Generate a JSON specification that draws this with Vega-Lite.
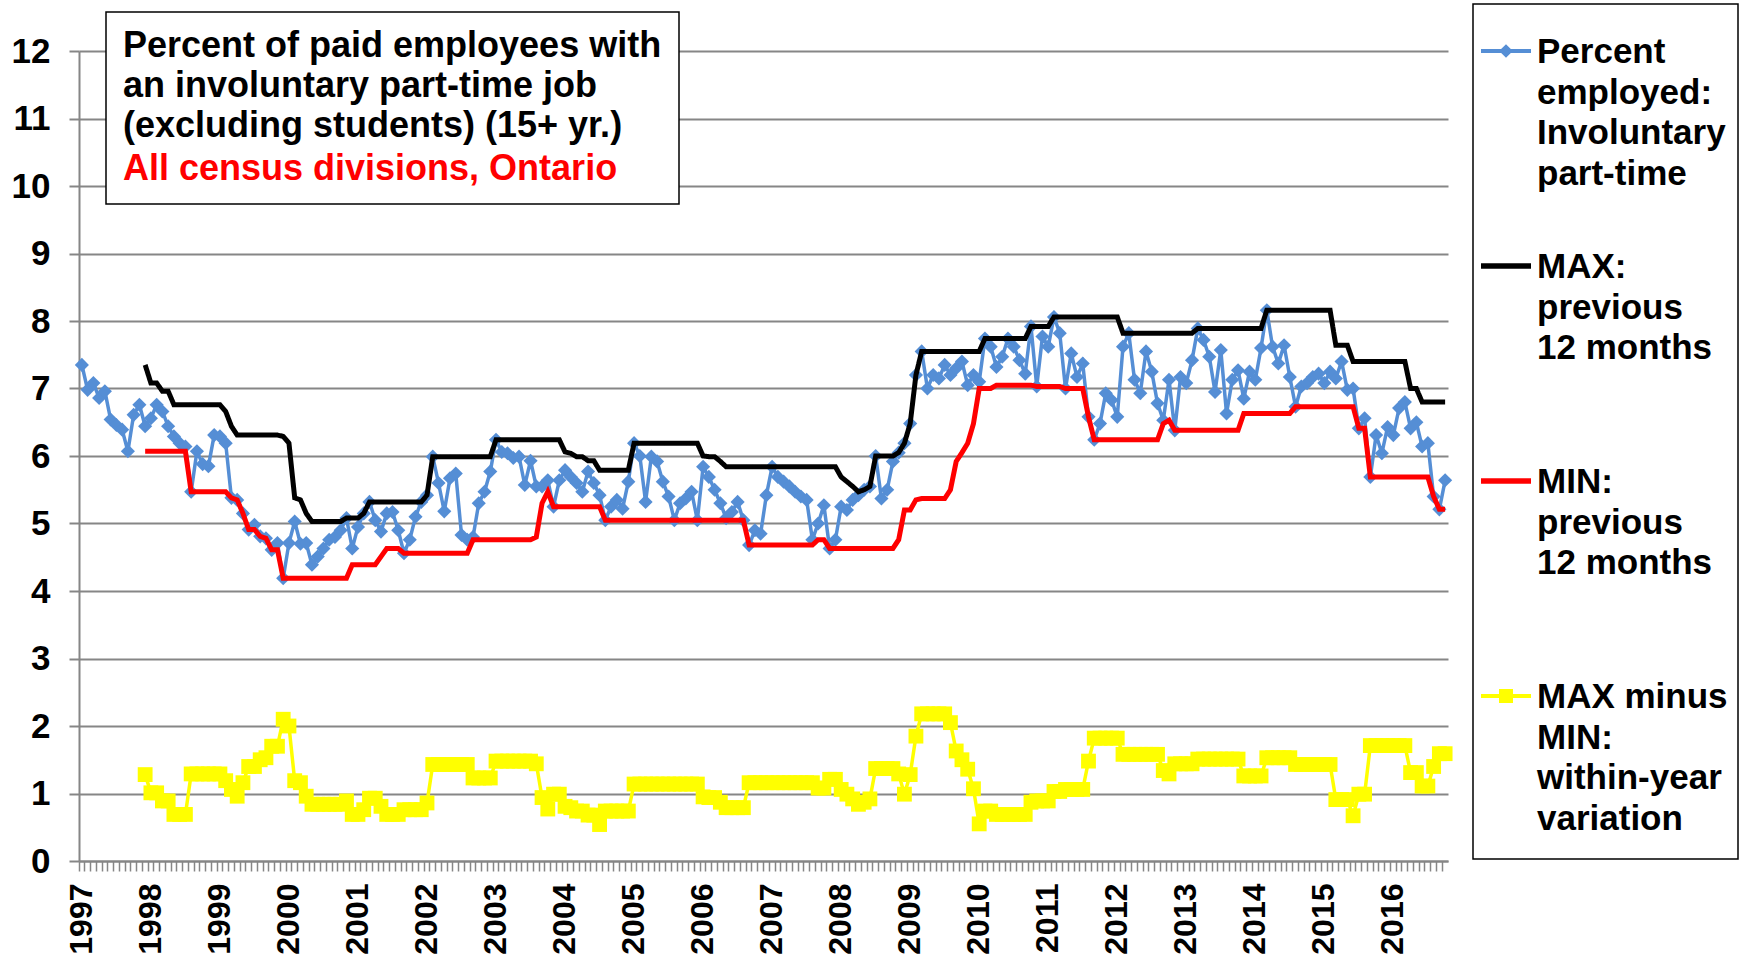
{
  "$schema": "https://vega.github.io/schema/vega-lite/v6.json",
  "width": 1369,
  "height": 810,
  "autosize": {"type": "none"},
  "padding": {"left": 79, "top": 51, "right": 298, "bottom": 102},
  "background": "white",
  "config": {
    "font": "Liberation Sans",
    "view": {"stroke": null},
    "legend": {"strokeWidth": 1.5}
  },
  "data": {"values": [
    {"d":"1997-01","pct":7.35},{"d":"1997-02","pct":6.98},{"d":"1997-03","pct":7.08},{"d":"1997-04","pct":6.86},
    {"d":"1997-05","pct":6.96},{"d":"1997-06","pct":6.54},{"d":"1997-07","pct":6.46},{"d":"1997-08","pct":6.39},
    {"d":"1997-09","pct":6.07},{"d":"1997-10","pct":6.61},{"d":"1997-11","pct":6.76},
    {"d":"1997-12","pct":6.44,"mx":7.35,"mn":6.07,"df":1.28},
    {"d":"1998-01","pct":6.56,"mx":7.08,"mn":6.07,"df":1.01},
    {"d":"1998-02","pct":6.76,"mx":7.08,"mn":6.07,"df":1.01},
    {"d":"1998-03","pct":6.66,"mx":6.96,"mn":6.07,"df":0.89},
    {"d":"1998-04","pct":6.44,"mx":6.96,"mn":6.07,"df":0.89},
    {"d":"1998-05","pct":6.29,"mx":6.76,"mn":6.07,"df":0.69},
    {"d":"1998-06","pct":6.19,"mx":6.76,"mn":6.07,"df":0.69},
    {"d":"1998-07","pct":6.14,"mx":6.76,"mn":6.07,"df":0.69},
    {"d":"1998-08","pct":5.47,"mx":6.76,"mn":5.47,"df":1.29},
    {"d":"1998-09","pct":6.07,"mx":6.76,"mn":5.47,"df":1.29},
    {"d":"1998-10","pct":5.88,"mx":6.76,"mn":5.47,"df":1.29},
    {"d":"1998-11","pct":5.85,"mx":6.76,"mn":5.47,"df":1.29},
    {"d":"1998-12","pct":6.31,"mx":6.76,"mn":5.47,"df":1.29},
    {"d":"1999-01","pct":6.29,"mx":6.76,"mn":5.47,"df":1.29},
    {"d":"1999-02","pct":6.19,"mx":6.66,"mn":5.47,"df":1.19},
    {"d":"1999-03","pct":5.38,"mx":6.44,"mn":5.38,"df":1.06},
    {"d":"1999-04","pct":5.35,"mx":6.31,"mn":5.35,"df":0.96},
    {"d":"1999-05","pct":5.15,"mx":6.31,"mn":5.15,"df":1.16},
    {"d":"1999-06","pct":4.91,"mx":6.31,"mn":4.91,"df":1.40},
    {"d":"1999-07","pct":4.98,"mx":6.31,"mn":4.91,"df":1.40},
    {"d":"1999-08","pct":4.81,"mx":6.31,"mn":4.81,"df":1.50},
    {"d":"1999-09","pct":4.78,"mx":6.31,"mn":4.78,"df":1.53},
    {"d":"1999-10","pct":4.61,"mx":6.31,"mn":4.61,"df":1.70},
    {"d":"1999-11","pct":4.71,"mx":6.31,"mn":4.61,"df":1.70},
    {"d":"1999-12","pct":4.19,"mx":6.29,"mn":4.19,"df":2.10},
    {"d":"2000-01","pct":4.71,"mx":6.19,"mn":4.19,"df":2.00},
    {"d":"2000-02","pct":5.03,"mx":5.38,"mn":4.19,"df":1.19},
    {"d":"2000-03","pct":4.70,"mx":5.35,"mn":4.19,"df":1.16},
    {"d":"2000-04","pct":4.71,"mx":5.15,"mn":4.19,"df":0.96},
    {"d":"2000-05","pct":4.39,"mx":5.03,"mn":4.19,"df":0.84},
    {"d":"2000-06","pct":4.51,"mx":5.03,"mn":4.19,"df":0.84},
    {"d":"2000-07","pct":4.63,"mx":5.03,"mn":4.19,"df":0.84},
    {"d":"2000-08","pct":4.76,"mx":5.03,"mn":4.19,"df":0.84},
    {"d":"2000-09","pct":4.80,"mx":5.03,"mn":4.19,"df":0.84},
    {"d":"2000-10","pct":4.90,"mx":5.03,"mn":4.19,"df":0.84},
    {"d":"2000-11","pct":5.08,"mx":5.08,"mn":4.19,"df":0.89},
    {"d":"2000-12","pct":4.63,"mx":5.08,"mn":4.39,"df":0.69},
    {"d":"2001-01","pct":4.95,"mx":5.08,"mn":4.39,"df":0.69},
    {"d":"2001-02","pct":5.15,"mx":5.15,"mn":4.39,"df":0.76},
    {"d":"2001-03","pct":5.32,"mx":5.32,"mn":4.39,"df":0.93},
    {"d":"2001-04","pct":5.05,"mx":5.32,"mn":4.39,"df":0.93},
    {"d":"2001-05","pct":4.88,"mx":5.32,"mn":4.51,"df":0.81},
    {"d":"2001-06","pct":5.15,"mx":5.32,"mn":4.63,"df":0.69},
    {"d":"2001-07","pct":5.17,"mx":5.32,"mn":4.63,"df":0.69},
    {"d":"2001-08","pct":4.90,"mx":5.32,"mn":4.63,"df":0.69},
    {"d":"2001-09","pct":4.56,"mx":5.32,"mn":4.56,"df":0.76},
    {"d":"2001-10","pct":4.76,"mx":5.32,"mn":4.56,"df":0.76},
    {"d":"2001-11","pct":5.10,"mx":5.32,"mn":4.56,"df":0.76},
    {"d":"2001-12","pct":5.32,"mx":5.32,"mn":4.56,"df":0.76},
    {"d":"2002-01","pct":5.42,"mx":5.42,"mn":4.56,"df":0.86},
    {"d":"2002-02","pct":5.99,"mx":5.99,"mn":4.56,"df":1.43},
    {"d":"2002-03","pct":5.60,"mx":5.99,"mn":4.56,"df":1.43},
    {"d":"2002-04","pct":5.18,"mx":5.99,"mn":4.56,"df":1.43},
    {"d":"2002-05","pct":5.67,"mx":5.99,"mn":4.56,"df":1.43},
    {"d":"2002-06","pct":5.74,"mx":5.99,"mn":4.56,"df":1.43},
    {"d":"2002-07","pct":4.83,"mx":5.99,"mn":4.56,"df":1.43},
    {"d":"2002-08","pct":4.76,"mx":5.99,"mn":4.56,"df":1.43},
    {"d":"2002-09","pct":4.80,"mx":5.99,"mn":4.76,"df":1.23},
    {"d":"2002-10","pct":5.30,"mx":5.99,"mn":4.76,"df":1.23},
    {"d":"2002-11","pct":5.47,"mx":5.99,"mn":4.76,"df":1.23},
    {"d":"2002-12","pct":5.77,"mx":5.99,"mn":4.76,"df":1.23},
    {"d":"2003-01","pct":6.24,"mx":6.24,"mn":4.76,"df":1.48},
    {"d":"2003-02","pct":6.06,"mx":6.24,"mn":4.76,"df":1.48},
    {"d":"2003-03","pct":6.04,"mx":6.24,"mn":4.76,"df":1.48},
    {"d":"2003-04","pct":5.97,"mx":6.24,"mn":4.76,"df":1.48},
    {"d":"2003-05","pct":5.99,"mx":6.24,"mn":4.76,"df":1.48},
    {"d":"2003-06","pct":5.57,"mx":6.24,"mn":4.76,"df":1.48},
    {"d":"2003-07","pct":5.93,"mx":6.24,"mn":4.76,"df":1.48},
    {"d":"2003-08","pct":5.55,"mx":6.24,"mn":4.80,"df":1.44},
    {"d":"2003-09","pct":5.55,"mx":6.24,"mn":5.30,"df":0.94},
    {"d":"2003-10","pct":5.64,"mx":6.24,"mn":5.47,"df":0.77},
    {"d":"2003-11","pct":5.25,"mx":6.24,"mn":5.25,"df":0.99},
    {"d":"2003-12","pct":5.64,"mx":6.24,"mn":5.25,"df":0.99},
    {"d":"2004-01","pct":5.79,"mx":6.06,"mn":5.25,"df":0.81},
    {"d":"2004-02","pct":5.69,"mx":6.04,"mn":5.25,"df":0.79},
    {"d":"2004-03","pct":5.60,"mx":5.99,"mn":5.25,"df":0.74},
    {"d":"2004-04","pct":5.47,"mx":5.99,"mn":5.25,"df":0.74},
    {"d":"2004-05","pct":5.77,"mx":5.93,"mn":5.25,"df":0.68},
    {"d":"2004-06","pct":5.60,"mx":5.93,"mn":5.25,"df":0.68},
    {"d":"2004-07","pct":5.42,"mx":5.79,"mn":5.25,"df":0.54},
    {"d":"2004-08","pct":5.05,"mx":5.79,"mn":5.05,"df":0.74},
    {"d":"2004-09","pct":5.25,"mx":5.79,"mn":5.05,"df":0.74},
    {"d":"2004-10","pct":5.35,"mx":5.79,"mn":5.05,"df":0.74},
    {"d":"2004-11","pct":5.22,"mx":5.79,"mn":5.05,"df":0.74},
    {"d":"2004-12","pct":5.62,"mx":5.79,"mn":5.05,"df":0.74},
    {"d":"2005-01","pct":6.19,"mx":6.19,"mn":5.05,"df":1.14},
    {"d":"2005-02","pct":6.00,"mx":6.19,"mn":5.05,"df":1.14},
    {"d":"2005-03","pct":5.32,"mx":6.19,"mn":5.05,"df":1.14},
    {"d":"2005-04","pct":5.99,"mx":6.19,"mn":5.05,"df":1.14},
    {"d":"2005-05","pct":5.92,"mx":6.19,"mn":5.05,"df":1.14},
    {"d":"2005-06","pct":5.62,"mx":6.19,"mn":5.05,"df":1.14},
    {"d":"2005-07","pct":5.40,"mx":6.19,"mn":5.05,"df":1.14},
    {"d":"2005-08","pct":5.05,"mx":6.19,"mn":5.05,"df":1.14},
    {"d":"2005-09","pct":5.30,"mx":6.19,"mn":5.05,"df":1.14},
    {"d":"2005-10","pct":5.37,"mx":6.19,"mn":5.05,"df":1.14},
    {"d":"2005-11","pct":5.47,"mx":6.19,"mn":5.05,"df":1.14},
    {"d":"2005-12","pct":5.05,"mx":6.19,"mn":5.05,"df":1.14},
    {"d":"2006-01","pct":5.84,"mx":6.00,"mn":5.05,"df":0.95},
    {"d":"2006-02","pct":5.69,"mx":5.99,"mn":5.05,"df":0.94},
    {"d":"2006-03","pct":5.50,"mx":5.99,"mn":5.05,"df":0.94},
    {"d":"2006-04","pct":5.30,"mx":5.92,"mn":5.05,"df":0.87},
    {"d":"2006-05","pct":5.08,"mx":5.84,"mn":5.05,"df":0.79},
    {"d":"2006-06","pct":5.17,"mx":5.84,"mn":5.05,"df":0.79},
    {"d":"2006-07","pct":5.32,"mx":5.84,"mn":5.05,"df":0.79},
    {"d":"2006-08","pct":5.05,"mx":5.84,"mn":5.05,"df":0.79},
    {"d":"2006-09","pct":4.68,"mx":5.84,"mn":4.68,"df":1.16},
    {"d":"2006-10","pct":4.90,"mx":5.84,"mn":4.68,"df":1.16},
    {"d":"2006-11","pct":4.85,"mx":5.84,"mn":4.68,"df":1.16},
    {"d":"2006-12","pct":5.42,"mx":5.84,"mn":4.68,"df":1.16},
    {"d":"2007-01","pct":5.84,"mx":5.84,"mn":4.68,"df":1.16},
    {"d":"2007-02","pct":5.69,"mx":5.84,"mn":4.68,"df":1.16},
    {"d":"2007-03","pct":5.62,"mx":5.84,"mn":4.68,"df":1.16},
    {"d":"2007-04","pct":5.55,"mx":5.84,"mn":4.68,"df":1.16},
    {"d":"2007-05","pct":5.47,"mx":5.84,"mn":4.68,"df":1.16},
    {"d":"2007-06","pct":5.40,"mx":5.84,"mn":4.68,"df":1.16},
    {"d":"2007-07","pct":5.35,"mx":5.84,"mn":4.68,"df":1.16},
    {"d":"2007-08","pct":4.76,"mx":5.84,"mn":4.68,"df":1.16},
    {"d":"2007-09","pct":5.00,"mx":5.84,"mn":4.76,"df":1.08},
    {"d":"2007-10","pct":5.27,"mx":5.84,"mn":4.76,"df":1.08},
    {"d":"2007-11","pct":4.63,"mx":5.84,"mn":4.63,"df":1.21},
    {"d":"2007-12","pct":4.76,"mx":5.84,"mn":4.63,"df":1.21},
    {"d":"2008-01","pct":5.25,"mx":5.69,"mn":4.63,"df":1.06},
    {"d":"2008-02","pct":5.20,"mx":5.62,"mn":4.63,"df":0.99},
    {"d":"2008-03","pct":5.35,"mx":5.55,"mn":4.63,"df":0.92},
    {"d":"2008-04","pct":5.42,"mx":5.47,"mn":4.63,"df":0.84},
    {"d":"2008-05","pct":5.50,"mx":5.50,"mn":4.63,"df":0.87},
    {"d":"2008-06","pct":5.55,"mx":5.55,"mn":4.63,"df":0.92},
    {"d":"2008-07","pct":6.00,"mx":6.00,"mn":4.63,"df":1.37},
    {"d":"2008-08","pct":5.37,"mx":6.00,"mn":4.63,"df":1.37},
    {"d":"2008-09","pct":5.50,"mx":6.00,"mn":4.63,"df":1.37},
    {"d":"2008-10","pct":5.92,"mx":6.00,"mn":4.63,"df":1.37},
    {"d":"2008-11","pct":6.05,"mx":6.05,"mn":4.76,"df":1.29},
    {"d":"2008-12","pct":6.19,"mx":6.19,"mn":5.20,"df":0.99},
    {"d":"2009-01","pct":6.48,"mx":6.48,"mn":5.20,"df":1.28},
    {"d":"2009-02","pct":7.20,"mx":7.20,"mn":5.35,"df":1.85},
    {"d":"2009-03","pct":7.55,"mx":7.55,"mn":5.37,"df":2.18},
    {"d":"2009-04","pct":7.00,"mx":7.55,"mn":5.37,"df":2.18},
    {"d":"2009-05","pct":7.20,"mx":7.55,"mn":5.37,"df":2.18},
    {"d":"2009-06","pct":7.15,"mx":7.55,"mn":5.37,"df":2.18},
    {"d":"2009-07","pct":7.35,"mx":7.55,"mn":5.37,"df":2.18},
    {"d":"2009-08","pct":7.20,"mx":7.55,"mn":5.50,"df":2.05},
    {"d":"2009-09","pct":7.30,"mx":7.55,"mn":5.92,"df":1.63},
    {"d":"2009-10","pct":7.40,"mx":7.55,"mn":6.05,"df":1.50},
    {"d":"2009-11","pct":7.05,"mx":7.55,"mn":6.19,"df":1.36},
    {"d":"2009-12","pct":7.20,"mx":7.55,"mn":6.48,"df":1.07},
    {"d":"2010-01","pct":7.10,"mx":7.55,"mn":7.00,"df":0.55},
    {"d":"2010-02","pct":7.74,"mx":7.74,"mn":7.00,"df":0.74},
    {"d":"2010-03","pct":7.62,"mx":7.74,"mn":7.00,"df":0.74},
    {"d":"2010-04","pct":7.32,"mx":7.74,"mn":7.05,"df":0.69},
    {"d":"2010-05","pct":7.47,"mx":7.74,"mn":7.05,"df":0.69},
    {"d":"2010-06","pct":7.74,"mx":7.74,"mn":7.05,"df":0.69},
    {"d":"2010-07","pct":7.62,"mx":7.74,"mn":7.05,"df":0.69},
    {"d":"2010-08","pct":7.42,"mx":7.74,"mn":7.05,"df":0.69},
    {"d":"2010-09","pct":7.22,"mx":7.74,"mn":7.05,"df":0.69},
    {"d":"2010-10","pct":7.92,"mx":7.92,"mn":7.05,"df":0.87},
    {"d":"2010-11","pct":7.03,"mx":7.92,"mn":7.03,"df":0.89},
    {"d":"2010-12","pct":7.77,"mx":7.92,"mn":7.03,"df":0.89},
    {"d":"2011-01","pct":7.62,"mx":7.92,"mn":7.03,"df":0.89},
    {"d":"2011-02","pct":8.06,"mx":8.06,"mn":7.03,"df":1.03},
    {"d":"2011-03","pct":7.82,"mx":8.06,"mn":7.03,"df":1.03},
    {"d":"2011-04","pct":7.00,"mx":8.06,"mn":7.00,"df":1.06},
    {"d":"2011-05","pct":7.52,"mx":8.06,"mn":7.00,"df":1.06},
    {"d":"2011-06","pct":7.17,"mx":8.06,"mn":7.00,"df":1.06},
    {"d":"2011-07","pct":7.37,"mx":8.06,"mn":7.00,"df":1.06},
    {"d":"2011-08","pct":6.58,"mx":8.06,"mn":6.58,"df":1.48},
    {"d":"2011-09","pct":6.24,"mx":8.06,"mn":6.24,"df":1.82},
    {"d":"2011-10","pct":6.48,"mx":8.06,"mn":6.24,"df":1.82},
    {"d":"2011-11","pct":6.93,"mx":8.06,"mn":6.24,"df":1.82},
    {"d":"2011-12","pct":6.83,"mx":8.06,"mn":6.24,"df":1.82},
    {"d":"2012-01","pct":6.58,"mx":8.06,"mn":6.24,"df":1.82},
    {"d":"2012-02","pct":7.62,"mx":7.82,"mn":6.24,"df":1.58},
    {"d":"2012-03","pct":7.82,"mx":7.82,"mn":6.24,"df":1.58},
    {"d":"2012-04","pct":7.13,"mx":7.82,"mn":6.24,"df":1.58},
    {"d":"2012-05","pct":6.93,"mx":7.82,"mn":6.24,"df":1.58},
    {"d":"2012-06","pct":7.55,"mx":7.82,"mn":6.24,"df":1.58},
    {"d":"2012-07","pct":7.25,"mx":7.82,"mn":6.24,"df":1.58},
    {"d":"2012-08","pct":6.78,"mx":7.82,"mn":6.24,"df":1.58},
    {"d":"2012-09","pct":6.53,"mx":7.82,"mn":6.48,"df":1.34},
    {"d":"2012-10","pct":7.13,"mx":7.82,"mn":6.53,"df":1.29},
    {"d":"2012-11","pct":6.38,"mx":7.82,"mn":6.38,"df":1.44},
    {"d":"2012-12","pct":7.17,"mx":7.82,"mn":6.38,"df":1.44},
    {"d":"2013-01","pct":7.08,"mx":7.82,"mn":6.38,"df":1.44},
    {"d":"2013-02","pct":7.42,"mx":7.82,"mn":6.38,"df":1.44},
    {"d":"2013-03","pct":7.89,"mx":7.89,"mn":6.38,"df":1.51},
    {"d":"2013-04","pct":7.72,"mx":7.89,"mn":6.38,"df":1.51},
    {"d":"2013-05","pct":7.47,"mx":7.89,"mn":6.38,"df":1.51},
    {"d":"2013-06","pct":6.95,"mx":7.89,"mn":6.38,"df":1.51},
    {"d":"2013-07","pct":7.57,"mx":7.89,"mn":6.38,"df":1.51},
    {"d":"2013-08","pct":6.63,"mx":7.89,"mn":6.38,"df":1.51},
    {"d":"2013-09","pct":7.13,"mx":7.89,"mn":6.38,"df":1.51},
    {"d":"2013-10","pct":7.27,"mx":7.89,"mn":6.38,"df":1.51},
    {"d":"2013-11","pct":6.85,"mx":7.89,"mn":6.63,"df":1.26},
    {"d":"2013-12","pct":7.25,"mx":7.89,"mn":6.63,"df":1.26},
    {"d":"2014-01","pct":7.13,"mx":7.89,"mn":6.63,"df":1.26},
    {"d":"2014-02","pct":7.60,"mx":7.89,"mn":6.63,"df":1.26},
    {"d":"2014-03","pct":8.16,"mx":8.16,"mn":6.63,"df":1.53},
    {"d":"2014-04","pct":7.62,"mx":8.16,"mn":6.63,"df":1.53},
    {"d":"2014-05","pct":7.37,"mx":8.16,"mn":6.63,"df":1.53},
    {"d":"2014-06","pct":7.64,"mx":8.16,"mn":6.63,"df":1.53},
    {"d":"2014-07","pct":7.17,"mx":8.16,"mn":6.63,"df":1.53},
    {"d":"2014-08","pct":6.73,"mx":8.16,"mn":6.73,"df":1.43},
    {"d":"2014-09","pct":7.03,"mx":8.16,"mn":6.73,"df":1.43},
    {"d":"2014-10","pct":7.08,"mx":8.16,"mn":6.73,"df":1.43},
    {"d":"2014-11","pct":7.17,"mx":8.16,"mn":6.73,"df":1.43},
    {"d":"2014-12","pct":7.22,"mx":8.16,"mn":6.73,"df":1.43},
    {"d":"2015-01","pct":7.08,"mx":8.16,"mn":6.73,"df":1.43},
    {"d":"2015-02","pct":7.25,"mx":8.16,"mn":6.73,"df":1.43},
    {"d":"2015-03","pct":7.15,"mx":7.64,"mn":6.73,"df":0.91},
    {"d":"2015-04","pct":7.40,"mx":7.64,"mn":6.73,"df":0.91},
    {"d":"2015-05","pct":6.98,"mx":7.64,"mn":6.73,"df":0.91},
    {"d":"2015-06","pct":7.00,"mx":7.40,"mn":6.73,"df":0.67},
    {"d":"2015-07","pct":6.41,"mx":7.40,"mn":6.41,"df":0.99},
    {"d":"2015-08","pct":6.56,"mx":7.40,"mn":6.41,"df":0.99},
    {"d":"2015-09","pct":5.69,"mx":7.40,"mn":5.69,"df":1.71},
    {"d":"2015-10","pct":6.31,"mx":7.40,"mn":5.69,"df":1.71},
    {"d":"2015-11","pct":6.04,"mx":7.40,"mn":5.69,"df":1.71},
    {"d":"2015-12","pct":6.43,"mx":7.40,"mn":5.69,"df":1.71},
    {"d":"2016-01","pct":6.31,"mx":7.40,"mn":5.69,"df":1.71},
    {"d":"2016-02","pct":6.71,"mx":7.40,"mn":5.69,"df":1.71},
    {"d":"2016-03","pct":6.80,"mx":7.40,"mn":5.69,"df":1.71},
    {"d":"2016-04","pct":6.41,"mx":7.00,"mn":5.69,"df":1.31},
    {"d":"2016-05","pct":6.50,"mx":7.00,"mn":5.69,"df":1.31},
    {"d":"2016-06","pct":6.14,"mx":6.80,"mn":5.69,"df":1.11},
    {"d":"2016-07","pct":6.19,"mx":6.80,"mn":5.69,"df":1.11},
    {"d":"2016-08","pct":5.40,"mx":6.80,"mn":5.40,"df":1.40},
    {"d":"2016-09","pct":5.21,"mx":6.80,"mn":5.21,"df":1.59},
    {"d":"2016-10","pct":5.64,"mx":6.80,"mn":5.21,"df":1.59}
  ]},
  "transform": [
    {"fold": ["pct", "mx", "mn", "df"], "as": ["s", "v"]},
    {"filter": "isValid(datum.v)"}
  ],
  "encoding": {
    "x": {
      "field": "d", "type": "ordinal",
      "scale": {"type": "band", "paddingInner": 0, "paddingOuter": 0},
      "axis": {
        "title": null, "bandPosition": 0, "grid": false,
        "domainColor": "#868686", "domainWidth": 2,
        "tickColor": "#868686", "tickWidth": 1.5, "tickSize": 10,
        "labelAngle": 270, "labelAlign": "right", "labelBaseline": "middle",
        "labelFontSize": 32, "labelFontWeight": "bold", "labelColor": "black",
        "labelPadding": 12, "labelOverlap": false, "labelBound": false, "labelFlush": false,
        "labelExpr": "slice(datum.value, 5) === '01' ? slice(datum.value, 0, 4) : ''"
      }
    },
    "y": {
      "field": "v", "type": "quantitative",
      "scale": {"domain": [0, 12], "nice": false, "zero": true},
      "axis": {
        "title": null, "values": [0,1,2,3,4,5,6,7,8,9,10,11,12],
        "grid": true, "gridColor": "#868686", "gridWidth": 2,
        "domainColor": "#868686", "domainWidth": 2,
        "tickColor": "#868686", "tickWidth": 2, "tickSize": 10,
        "labelFontSize": 35, "labelFontWeight": "bold", "labelColor": "black",
        "labelPadding": 19
      }
    },
    "color": {
      "field": "s", "type": "nominal",
      "scale": {"domain": ["pct", "mx", "mn", "df"], "range": ["#558ED5", "#000000", "#FF0000", "#FFFF00"]},
      "legend": null
    }
  },
  "layer": [
    {
      "transform": [{"filter": "datum.s === 'pct'"}],
      "mark": {"type": "line", "strokeWidth": 3.5},
      "encoding": {
        "color": {
          "field": "s", "type": "nominal",
          "scale": {"domain": ["pct", "mx", "mn", "df"], "range": ["#558ED5", "#000000", "#FF0000", "#FFFF00"]},
          "legend": {
            "orient": "none", "legendX": 1394, "legendY": -47, "direction": "vertical",
            "columns": 1, "gridAlign": "all", "rowPadding": 37,
            "title": " ", "titleOrient": "bottom", "titleFontSize": 8, "titlePadding": 4,
            "padding": 10, "strokeColor": "black", "fillColor": "white",
            "symbolType": "stroke", "symbolSize": 2500, "symbolStrokeWidth": 4, "symbolOffset": 0,
            "labelOffset": 6, "labelFontSize": 35, "labelFontWeight": "bold", "labelColor": "black",
            "labelLimit": 1000, "labelBaseline": "alphabetic",
            "labelExpr": "datum.value === 'pct' ? ['Percent', 'employed:', 'Involuntary', 'part-time'] : datum.value === 'mx' ? ['MAX:', 'previous', '12 months'] : datum.value === 'mn' ? ['MIN:', 'previous', '12 months'] : ['MAX minus', 'MIN:', 'within-year', 'variation']",
            "encode": {
              "symbols": {"update": {
                "shape": {"signal": "datum.value === 'pct' ? 'M-1,0H1M-0.16,0L0,-0.16L0.16,0L0,0.16Z' : datum.value === 'df' ? 'M-1,0H1M-0.2,-0.2H0.2V0.2H-0.2Z' : 'M-1,0H1'"},
                "fill": {"signal": "datum.value === 'pct' ? '#558ED5' : datum.value === 'df' ? '#FFFF00' : 'transparent'"},
                "stroke": {"signal": "datum.value === 'pct' ? '#558ED5' : datum.value === 'mx' ? '#000000' : datum.value === 'mn' ? '#FF0000' : '#FFFF00'"},
                "strokeWidth": {"signal": "datum.value === 'mx' || datum.value === 'mn' ? 5.5 : 4"},
                "size": {"value": 2500},
                "x": {"value": 23},
                "y": {"value": 37},
                "opacity": {"value": 1}
              }},
              "labels": {"update": {"x": {"value": 54}, "y": {"value": 37}, "dy": {"value": 12}, "lineHeight": {"value": 40.5}}}
            }
          }
        }
      }
    },
    {
      "transform": [{"filter": "datum.s === 'pct'"}],
      "mark": {"type": "point", "shape": "diamond", "filled": true, "size": 200, "opacity": 1, "strokeWidth": 0}
    },
    {
      "transform": [{"filter": "datum.s === 'mx'"}],
      "mark": {"type": "line", "strokeWidth": 5},
      "encoding": {
        "strokeDash": {
          "datum": "All census divisions, Ontario", "type": "nominal",
          "scale": {"range": [[1, 0]]},
          "legend": {
            "orient": "none", "legendX": 27, "legendY": -39, "direction": "vertical",
            "title": ["Percent of paid employees with ", "an involuntary part-time job", "(excluding students) (15+ yr.)"],
            "titleFontSize": 36, "titleFontWeight": "bold", "titleColor": "black",
            "titleLimit": 1000, "titleLineHeight": 40, "titlePadding": 4, "titleBaseline": "top",
            "padding": 17, "strokeColor": "black", "fillColor": "white",
            "symbolType": "stroke", "symbolSize": 1600, "symbolOpacity": 0, "symbolStrokeWidth": 0,
            "labelOffset": -40, "labelFontSize": 36, "labelFontWeight": "bold", "labelColor": "#FF0000",
            "labelLimit": 1000
          }
        }
      }
    },
    {
      "transform": [{"filter": "datum.s === 'mn'"}],
      "mark": {"type": "line", "strokeWidth": 5}
    },
    {
      "transform": [{"filter": "datum.s === 'df'"}],
      "mark": {"type": "line", "strokeWidth": 3.5}
    },
    {
      "transform": [{"filter": "datum.s === 'df'"}],
      "mark": {"type": "point", "shape": "square", "filled": true, "size": 220, "opacity": 1, "strokeWidth": 0}
    }
  ]
}
